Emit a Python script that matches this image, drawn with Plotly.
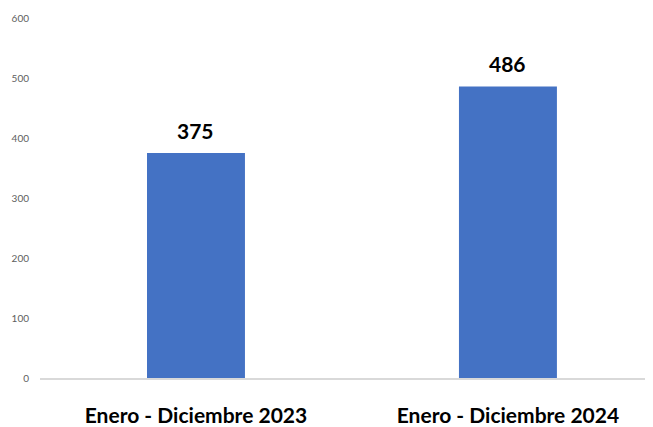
import plotly.graph_objects as go

categories = ["Enero - Diciembre 2023", "Enero - Diciembre 2024"]
values = [375, 486]
y_ticks = [0, 100, 200, 300, 400, 500, 600]

fig = go.Figure(go.Bar(
    x=categories, y=values,
    marker=dict(color="#4472C4", line=dict(width=0)),
    width=0.314,
    cliponaxis=False,
))

for c, v in zip(categories, values):
    fig.add_annotation(
        x=c, y=v, text=f"<b>{v}</b>", showarrow=False,
        yanchor="middle", yshift=23,
        font=dict(family="Lato", size=21, color="#000000"),
    )

fig.update_layout(
    width=645, height=419,
    margin=dict(l=32, r=0, t=10, b=44),
    paper_bgcolor="white", plot_bgcolor="white",
    showlegend=False,
    font=dict(family="Lato"),
    xaxis=dict(
        range=[-0.5, 1.465],
        showline=True, linecolor="#D9D9D9", linewidth=1.5,
        showgrid=False, zeroline=False,
        ticks="outside", ticklen=18, tickcolor="rgba(0,0,0,0)",
        tickfont=dict(family="Lato", size=21, color="#000000", weight="bold"),
    ),
    yaxis=dict(
        range=[0, 600], tickvals=y_ticks,
        showgrid=False, zeroline=False, showline=False,
        ticklabelstandoff=10,
        tickfont=dict(family="Lato", size=10, color="#606060"),
    ),
)

fig.write_html("out.html")
